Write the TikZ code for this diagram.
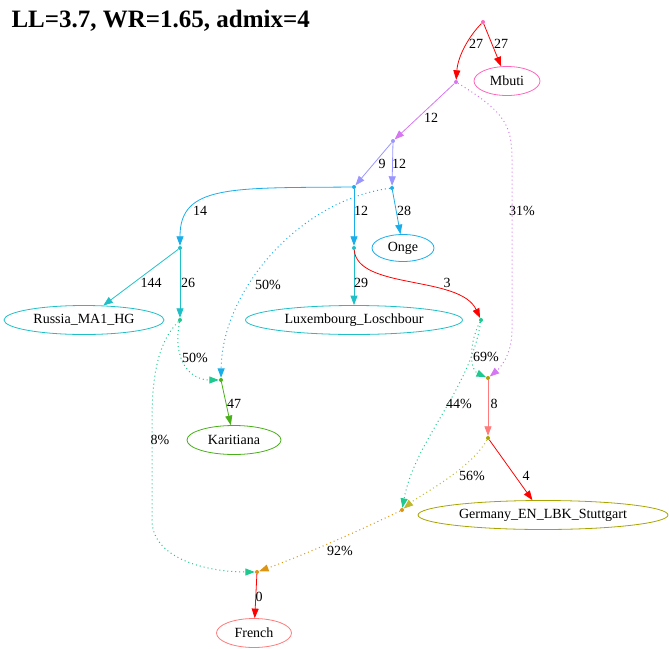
\documentclass[tikz,border=0pt]{standalone}
\usepackage{fontspec}
\setmainfont{Liberation Serif}
\usetikzlibrary{arrows.meta, shapes.geometric}

\definecolor{cPink}{HTML}{FF66BB}
\definecolor{cViolet}{HTML}{D677F2}
\definecolor{cLilac}{HTML}{9A96FF}
\definecolor{cSky}{HTML}{19AEEA}
\definecolor{cTeal}{HTML}{1FBFC8}
\definecolor{cSea}{HTML}{1DC98E}
\definecolor{cGreen}{HTML}{48B018}
\definecolor{cSalmon}{HTML}{FF7A7A}
\definecolor{cOlive}{HTML}{A8A400}
\definecolor{cMustard}{HTML}{BDB82E}
\definecolor{cOrange}{HTML}{DD9411}

\begin{document}
\begin{tikzpicture}[x=1pt, y=-1pt,
		font=\fontsize{14}{16}\selectfont,
		pt/.style={circle, inner sep=0pt, minimum size=4pt},
		pop/.style={ellipse, draw, line width=0.8pt, inner sep=0pt, minimum height=29pt, text=black},
		e/.style={line width=0.8pt, -{Triangle[length=9.5pt,width=7pt]}},
		adm/.style={e, line width=1pt, dash pattern=on 1pt off 3pt},
		lbl/.style={inner sep=0pt, text=black}]
			\useasboundingbox (0,0) rectangle (669,648);
			
			\node[anchor=base west, font=\fontsize{25}{28}\selectfont\bfseries] (title) at (8,27) {LL=3.7, WR=1.65, admix=4};
			
			% inner points
			\node[pt, fill=cPink] (root) at (483,22) {};
			\node[pt, fill=cViolet] (n1) at (456,82) {};
			\node[pt, fill=cLilac] (n2) at (393,141) {};
			\node[pt, fill=cSky] (n3) at (354,187) {};
			\node[pt, fill=cSky] (n4) at (392,188) {};
			\node[pt, fill=cTeal] (n5) at (180,248) {};
			\node[pt, fill=cTeal] (n6) at (354,248) {};
			\node[pt, fill=cSea] (n7) at (180,320) {};
			\node[pt, fill=cSea] (n8) at (481,320) {};
			\node[pt, fill=cGreen] (n9) at (221,380) {};
			\node[pt, fill=cOlive] (n10) at (488,378) {};
			\node[pt, fill=cOlive] (n13) at (488,438) {};
			\node[pt, fill=cOrange] (n11) at (402,510) {};
			\node[pt, fill=cOrange] (n12) at (257,572) {};
			
			% populations
			\node[pop, draw=cPink, minimum width=66pt] (Mbuti) at (507,81) {Mbuti};
			\node[pop, draw=cSky, minimum width=62pt, minimum height=27pt] (Onge) at (403,248) {Onge};
			\node[pop, draw=cTeal, minimum width=160pt] (Russia) at (84,320) {Russia\_MA1\_HG};
			\node[pop, draw=cTeal, minimum width=217pt] (Lux) at (354,320) {Luxembourg\_Loschbour};
			\node[pop, draw=cGreen, minimum width=94pt] (Karitiana) at (234,440) {Karitiana};
			\node[pop, draw=cOlive, minimum width=250pt] (Germany) at (543,515) {Germany\_EN\_LBK\_Stuttgart};
			\node[pop, draw=cSalmon, minimum width=75pt] (French) at (254,633) {French};
			
			% drift edges
			\draw[e, red] (root) .. controls (470,35) and (458,55) .. (n1) node[lbl] at (476,44) {27};
			\draw[e, red] (root) -- (Mbuti) node[lbl] at (501,44) {27};
			\draw[e, cViolet] (n1) -- (n2) node[lbl] at (431,118) {12};
			\draw[e, cLilac] (n2) -- (n3) node[lbl] at (382,164) {9};
			\draw[e, cLilac] (n2) -- (n4) node[lbl] at (399,164) {12};
			\draw[e, cSky] (n3) .. controls (230,188) and (180,185) .. (n5) node[lbl] at (200,211) {14};
			\draw[e, cSky] (n3) -- (n6) node[lbl] at (361,211) {12};
			\draw[e, cSky] (n4) -- (Onge) node[lbl] at (404,211) {28};
			\draw[e, cTeal] (n5) -- (Russia) node[lbl] at (151,283) {144};
			\draw[e, cTeal] (n5) -- (n7) node[lbl] at (188,283) {26};
			\draw[e, cTeal] (n6) -- (Lux) node[lbl] at (361,283) {29};
			\draw[e, red] (n6) .. controls (358,290) and (460,275) .. (n8) node[lbl] at (447,283) {3};
			\draw[e, cGreen] (n9) -- (Karitiana) node[lbl] at (234,404) {47};
			\draw[e, cSalmon] (n10) -- (n13) node[lbl] at (494,404) {8};
			\draw[e, red] (n13) -- (Germany) node[lbl] at (526,476) {4};
			\draw[e, red] (n12) -- (French) node[lbl] at (259,597) {0};
			
			% admixture edges
			\draw[adm, cViolet] (n1) .. controls (505,112) and (512,125) .. (512,160) -- (512,330) .. controls (512,355) and (500,368) .. (n10) node[lbl] at (522,211) {31\%};
			\draw[adm, cSky] (n4) .. controls (300,200) and (222,290) .. (n9) node[lbl] at (268,285) {50\%};
			\draw[adm, cSea] (n7) .. controls (172,360) and (190,380) .. (n9) node[lbl] at (195,358) {50\%};
			\draw[adm, cSea] (n7) .. controls (160,340) and (152,370) .. (152,420) -- (152,520) .. controls (152,560) and (210,572) .. (n12) node[lbl] at (160,440) {8\%};
			\draw[adm, cSea] (n8) .. controls (468,345) and (470,370) .. (n10) node[lbl] at (486,357) {69\%};
			\draw[adm, cSea] (n8) .. controls (470,390) and (415,440) .. (n11) node[lbl] at (459,404) {44\%};
			\draw[adm, cMustard] (n13) .. controls (470,470) and (420,495) .. (n11) node[lbl] at (472,476) {56\%};
			\draw[adm, cOrange] (n11) .. controls (340,540) and (290,560) .. (n12) node[lbl] at (340,551) {92\%};
		\end{tikzpicture}
\end{document}
